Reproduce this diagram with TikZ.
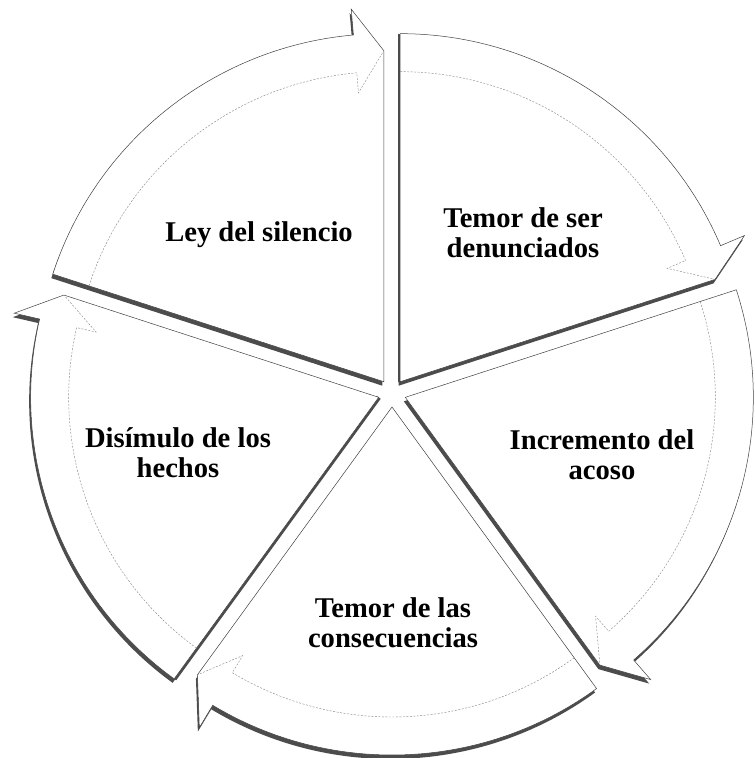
\documentclass[tikz,border=0pt]{standalone}
\usepackage{fontspec}
\setmainfont{Liberation Serif}
\usetikzlibrary{calc}
\begin{document}
\begin{tikzpicture}[x=1pt,y=1pt,
  wedgeshadow/.style={fill=black!70, draw=none},
  edgeshade/.style={draw=black!70, line width=5pt, line cap=butt},
  wedgebody/.style={fill=white, draw=black!75, line width=0.5pt, line join=miter},
  ringline/.style={draw=black!45, line width=0.45pt, dash pattern=on 2pt off 1.5pt},
  textlbl/.style={font=\fontsize{28.6}{30}\selectfont\bfseries, align=center, text=black, inner sep=0pt}]
\useasboundingbox (0,0) rectangle (755,758);
\coordinate (C) at (392,365);
\def\Rout{348}\def\Rin{310}\def\Bout{374}\def\Bin{290}\def\Rtip{331}
% shadows
\foreach \b in {126,54,-18,-90,-162}{
  \pgfmathsetmacro\s{\b+36}
  \pgfmathsetmacro\e{\b-36}
  \pgfmathsetmacro\bb{\e+5}
  \begin{scope}[shift={($(C)+(\b:14)+(-1.5,-4)$)}]
    \path[wedgeshadow] (\s:\Rout) arc[start angle=\s, end angle=\bb, radius=\Rout] -- (\bb:\Bout) -- (\e:\Rtip) -- (0,0) -- cycle;
  \end{scope}
}
% extra shading on the start edges of two segments
\foreach \b in {54,-162}{
  \pgfmathsetmacro\s{\b+36}
  \begin{scope}[shift={($(C)+(\b:14)$)}]
    \path[edgeshade] (0,0) -- (\s:\Rout);
  \end{scope}
}
% bodies
\foreach \b in {126,54,-18,-90,-162}{
  \pgfmathsetmacro\s{\b+36}
  \pgfmathsetmacro\e{\b-36}
  \pgfmathsetmacro\bb{\e+5}
  \begin{scope}[shift={($(C)+(\b:14)$)}]
    \path[wedgebody] (\s:\Rout) arc[start angle=\s, end angle=\bb, radius=\Rout] -- (\bb:\Bout) -- (\e:\Rtip) -- (0,0) -- cycle;
    \path[ringline] (\s:\Rin) arc[start angle=\s, end angle=\bb, radius=\Rin] -- (\bb:\Bin) -- (\e:\Rtip);
  \end{scope}
}
\node[textlbl] (ley) at (259,523) {Ley del silencio};
\node[textlbl] (temorser) at (523,525) {Temor de ser\\denunciados};
\node[textlbl] (incremento) at (602,303) {Incremento del\\acoso};
\node[textlbl] (disimulo) at (178,305) {Disímulo de los\\hechos};
\node[textlbl] (temorcons) at (393,135) {Temor de las\\consecuencias};
\end{tikzpicture}
\end{document}
